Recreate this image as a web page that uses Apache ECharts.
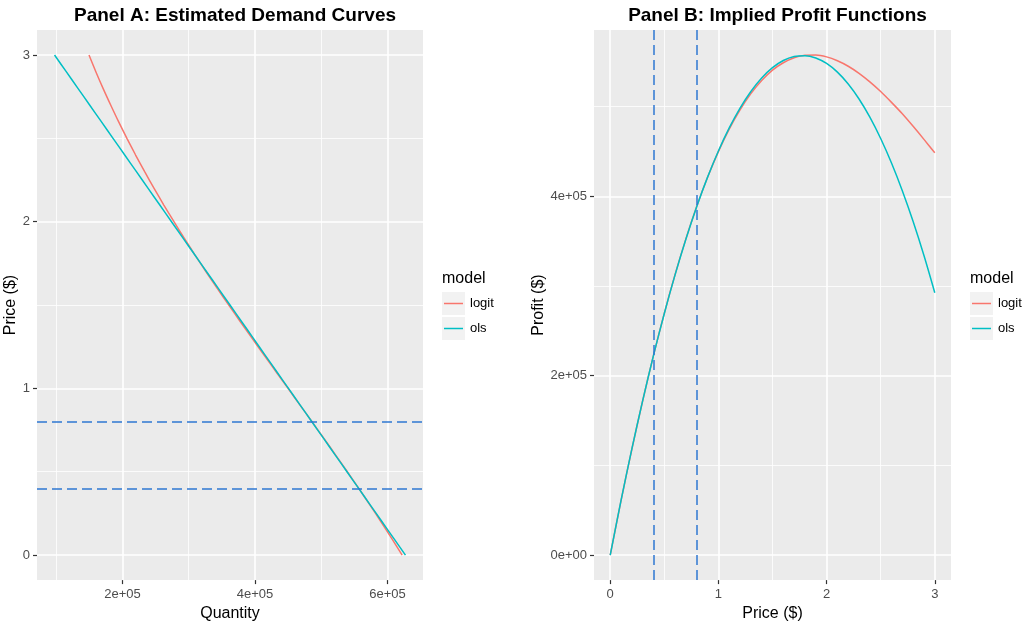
<!DOCTYPE html>
<html>
<head>
<meta charset="utf-8">
<script src="https://cdn.jsdelivr.net/npm/echarts@6/dist/echarts.min.js"></script>
<style>
html,body{margin:0;padding:0;background:#fff;}
#chart{width:1035px;height:627px;}
</style>
</head>
<body>
<div id="chart"></div>
<script>
// ---- data ----
const prices = [0,0.1,0.2,0.3,0.4,0.5,0.6,0.7,0.8,0.9,1.0,1.1,1.2,1.3,1.4,1.5,1.6,1.7,1.8,1.9,2.0,2.1,2.2,2.3,2.4,2.5,2.6,2.7,2.8,2.9,3.0];
const logitQuantity = [622000,606200,590100,573500,556600,539300,521700,504000,486000,467900,449800,431700,413600,395700,377900,360400,343000,326100,309500,293400,277700,262400,247700,233500,219800,206700,194100,182200,170700,159800,149500];
const olsQuantity = [627000,609350,591700,574050,556400,538750,521100,503450,485800,468150,450500,432850,415200,397550,379900,362250,344600,326950,309300,291650,274000,256350,238700,221050,203400,185750,168100,150450,132800,115150,97500];
const logitProfit = [0,60620,118020,172050,222640,269650,313020,352800,388800,421110,449800,474870,496320,514410,529060,540600,548800,554370,557100,557460,555400,551040,544940,537050,527520,516750,504660,491940,477960,463420,448500];
const olsProfit = [0,60935,118340,172215,222560,269375,312660,352415,388640,421335,450500,476135,498240,516815,531860,543375,551360,555815,556740,554135,548000,538335,525140,508415,488160,464375,437060,406215,371840,333935,292500];
const referencePrices = [0.4, 0.8];
const modelNames = ['logit', 'ols'];

const quantityTicks = [200000, 400000, 600000];
const quantityTickLabels = ['2e+05', '4e+05', '6e+05'];
const quantityMinor = [100000, 300000, 500000];
const priceTicks = [0, 1, 2, 3];
const priceTickLabels = ['0', '1', '2', '3'];
const priceMinor = [0.5, 1.5, 2.5];
const profitTicks = [0, 200000, 400000];
const profitTickLabels = ['0e+00', '2e+05', '4e+05'];
const profitMinor = [100000, 300000, 500000];

// ---- styling ----
const FONT = "'Liberation Sans', Arial, Helvetica, sans-serif";
const COL = { logit: '#F8766D', ols: '#00BFC4' };
const REF = '#2F78D2';
const GA = { left: 37, top: 30, width: 386, height: 554 };
const GB = { left: 594, top: 30, width: 357, height: 554 };

function labeler(ticks, labels) {
  return function (v) {
    for (let i = 0; i < ticks.length; i++) if (Math.abs(ticks[i] - v) < 1e-9 * Math.max(1, Math.abs(v))) return labels[i];
    return '';
  };
}
function axisBase(ticks, labels, isX) {
  return {
    type: 'value',
    axisLine: { show: false, onZero: false },
    splitLine: { show: false },
    axisTick: { show: true, customValues: ticks, length: 4, lineStyle: { color: '#333333', width: 1.2 } },
    axisLabel: { customValues: ticks, formatter: labeler(ticks, labels), color: '#4D4D4D', fontSize: 13, fontFamily: FONT, margin: isX ? 8 : 7 },
    nameLocation: 'middle',
    nameTextStyle: { color: '#000', fontSize: 16, fontFamily: FONT }
  };
}
function gridLines(axisKey, major, minor) {
  const d = [];
  major.forEach(v => d.push({ [axisKey]: v, lineStyle: { color: '#FFFFFF', width: 1.6, type: 'solid' } }));
  minor.forEach(v => d.push({ [axisKey]: v, lineStyle: { color: '#FFFFFF', width: 0.8, type: 'solid' } }));
  return d;
}
function makeMark(data, z) {
  return { silent: true, z: z, symbol: ['none', 'none'], label: { show: false }, animation: false, data: data, emphasis: { disabled: true } };
}

const chart = echarts.init(document.getElementById('chart'), null, { renderer: 'canvas' });

const xA = Object.assign(axisBase(quantityTicks, quantityTickLabels, true), { gridIndex: 0, min: 71025, max: 653475, name: 'Quantity', nameGap: 24 });
const yA = Object.assign(axisBase(priceTicks, priceTickLabels, false), { gridIndex: 0, min: -0.15, max: 3.15, name: 'Price ($)', nameGap: 11 });
const xB = Object.assign(axisBase(priceTicks, priceTickLabels, true), { gridIndex: 1, min: -0.15, max: 3.15, name: 'Price ($)', nameGap: 24 });
const yB = Object.assign(axisBase(profitTicks, profitTickLabels, false), { gridIndex: 1, min: -27873, max: 585333, name: 'Profit ($)', nameGap: 44 });

function legendGraphic(x) {
  const els = [{ type: 'text', left: x, top: 271, style: { text: 'model', fill: '#000', font: '16px ' + FONT } }];
  modelNames.forEach((m, i) => {
    const y = 292 + i * 25;
    els.push({ type: 'rect', shape: { x: x, y: y, width: 23, height: 23 }, style: { fill: '#F2F2F2' } });
    els.push({ type: 'line', shape: { x1: x + 2, y1: y + 11.5, x2: x + 21, y2: y + 11.5 }, style: { stroke: COL[m], lineWidth: 1.5 } });
    els.push({ type: 'text', x: x + 28, y: y + 11.5, style: { text: m, fill: '#000', font: '13px ' + FONT, textVerticalAlign: 'middle' } });
  });
  return els;
}

const option = {
  animation: false,
  backgroundColor: '#FFFFFF',
  title: [
    { text: 'Panel A: Estimated Demand Curves', left: GA.left + GA.width / 2, top: 1, textAlign: 'center', textStyle: { fontSize: 19, fontWeight: 'bold', color: '#000', fontFamily: FONT } },
    { text: 'Panel B: Implied Profit Functions', left: GB.left + GB.width / 2, top: 1, textAlign: 'center', textStyle: { fontSize: 19, fontWeight: 'bold', color: '#000', fontFamily: FONT } }
  ],
  grid: [
    Object.assign({ show: true, backgroundColor: '#EBEBEB', borderWidth: 0, containLabel: false }, GA),
    Object.assign({ show: true, backgroundColor: '#EBEBEB', borderWidth: 0, containLabel: false }, GB)
  ],
  xAxis: [xA, xB],
  yAxis: [yA, yB],
  series: [
    {
      name: 'logit', type: 'line', xAxisIndex: 0, yAxisIndex: 0, showSymbol: false, smooth: 0.3, z: 2,
      lineStyle: { color: COL.logit, width: 1.5 },
      data: prices.map((p, i) => [logitQuantity[i], p]),
      markLine: makeMark(gridLines('xAxis', quantityTicks, quantityMinor).concat(gridLines('yAxis', priceTicks, priceMinor)), 1)
    },
    {
      name: 'ols', type: 'line', xAxisIndex: 0, yAxisIndex: 0, showSymbol: false, smooth: 0.3, z: 3,
      lineStyle: { color: COL.ols, width: 1.5 },
      data: prices.map((p, i) => [olsQuantity[i], p]),
      markLine: makeMark(referencePrices.map(v => ({ yAxis: v, lineStyle: { color: REF, width: 1.5, type: [10, 5] } })), 4)
    },
    {
      name: 'logit', type: 'line', xAxisIndex: 1, yAxisIndex: 1, showSymbol: false, smooth: 0.3, z: 2,
      lineStyle: { color: COL.logit, width: 1.5 },
      data: prices.map((p, i) => [p, logitProfit[i]]),
      markLine: makeMark(gridLines('xAxis', priceTicks, priceMinor).concat(gridLines('yAxis', profitTicks, profitMinor)), 1)
    },
    {
      name: 'ols', type: 'line', xAxisIndex: 1, yAxisIndex: 1, showSymbol: false, smooth: 0.3, z: 3,
      lineStyle: { color: COL.ols, width: 1.5 },
      data: prices.map((p, i) => [p, olsProfit[i]]),
      markLine: makeMark(referencePrices.map(v => ({ xAxis: v, lineStyle: { color: REF, width: 1.5, type: [10, 5] } })), 4)
    }
  ],
  graphic: legendGraphic(442).concat(legendGraphic(970))
};
chart.setOption(option);
</script>
</body>
</html>
